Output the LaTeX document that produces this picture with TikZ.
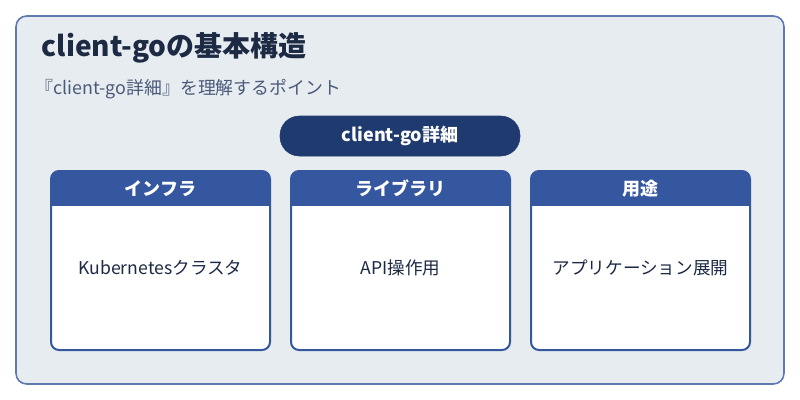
\documentclass[tikz,border=0pt]{standalone}
\usepackage{fontspec}
\setmainfont{Noto Sans CJK JP}
\begin{document}
\begin{tikzpicture}[x=0.75pt,y=-0.75pt,
  card/.style={draw=hblue,line width=1.5pt,rounded corners=6pt},
  htxt/.style={text=white,font=\bfseries\fontsize{13.5}{15}\selectfont},
  btxt/.style={text=dark,font=\fontsize{13.2}{15}\selectfont}]
\definecolor{bg}{HTML}{E7ECF1}
\definecolor{frame}{HTML}{5F7AB0}
\definecolor{dark}{HTML}{1C2A44}
\definecolor{sub}{HTML}{4A5A78}
\definecolor{pill}{HTML}{1F3A6E}
\definecolor{hblue}{HTML}{3557A0}
\useasboundingbox (0,0) rectangle (800,400);
\fill[white] (0,0) rectangle (800,400);
\draw[fill=bg,draw=frame,line width=1.2pt,rounded corners=8pt] (16,16) rectangle (784,384);
\node[anchor=west,text=dark,font=\bfseries\fontsize{21}{25}\selectfont] (title) at (37,48) {client-goの基本構造};
\node[anchor=west,text=sub,font=\fontsize{13.4}{15}\selectfont] (subt) at (31,89) {『client-go詳細』を理解するポイント};
\draw[fill=pill,draw=pill,rounded corners=14.5pt] (280,116) rectangle (520,156);
\node[text=white,font=\bfseries\fontsize{13.5}{16}\selectfont] (p) at (400,136) {client-go詳細};
\foreach \x/\h/\b/\n in {51/インフラ/Kubernetesクラスタ/a,291/ライブラリ/API操作用/b,531/用途/アプリケーション展開/c}{
  \fill[white,rounded corners=6pt] (\x,171) rectangle ++(219,179);
  \begin{scope}
    \clip[rounded corners=6pt] (\x,171) rectangle ++(219,179);
    \fill[hblue] (\x,171) rectangle ++(219,35);
  \end{scope}
  \draw[card] (\x,171) rectangle ++(219,179);
  \node[htxt] (h\n) at (\x+109.5,188.5) {\h};
  \node[btxt] (b\n) at (\x+109.5,268) {\b};
}
\end{tikzpicture}
\end{document}
